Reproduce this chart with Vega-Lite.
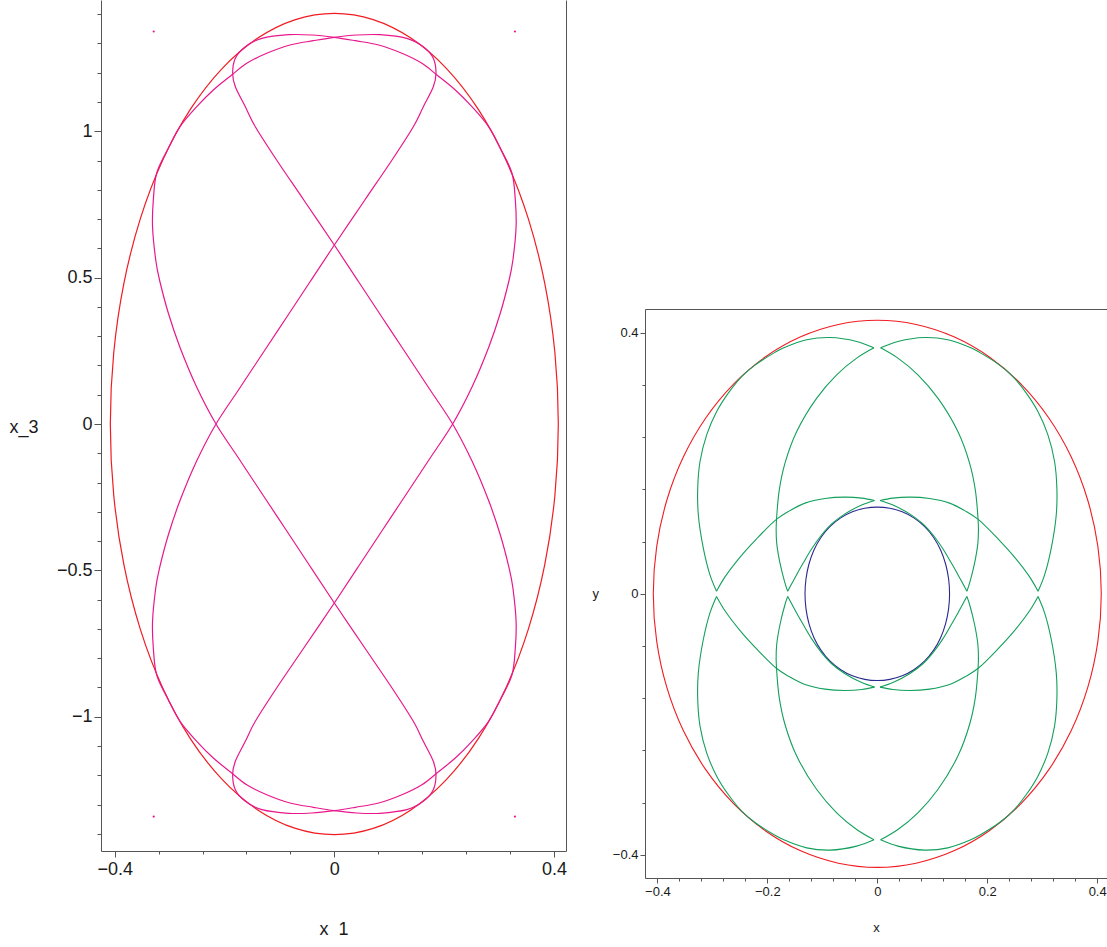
{
"$schema":"https://vega.github.io/schema/vega-lite/v6.json",
"padding":{"left":9,"top":0,"right":0,"bottom":0},
"bounds":"flush",
"spacing":79,
"config":{"view":{"stroke":null},"axis":{"labelFont":"Liberation Sans","titleFont":"Liberation Sans","titleFontWeight":"normal","domainColor":"#555","tickColor":"#555","labelColor":"#1a1a1a","titleColor":"#1a1a1a","grid":false,"domainWidth":1,"tickWidth":1}},
"resolve":{"scale":{"color":"independent"}},
"datasets":{
"L":[
{"s":"r","c":"E","i":0,"x":0.408,"y":0},{"s":"r","c":"E","i":1,"x":0.4018,"y":0.2436},{"s":"r","c":"E","i":2,"x":0.3834,"y":0.4798},{"s":"r","c":"E","i":3,"x":0.3533,"y":0.7015},{"s":"r","c":"E","i":4,"x":0.3125,"y":0.9018},{"s":"r","c":"E","i":5,"x":0.2623,"y":1.0747},{"s":"r","c":"E","i":6,"x":0.204,"y":1.215},{"s":"r","c":"E","i":7,"x":0.1395,"y":1.3184},{"s":"r","c":"E","i":8,"x":0.0708,"y":1.3817},{"s":"r","c":"E","i":9,"x":0,"y":1.403},{"s":"r","c":"E","i":10,"x":-0.0708,"y":1.3817},{"s":"r","c":"E","i":11,"x":-0.1395,"y":1.3184},{"s":"r","c":"E","i":12,"x":-0.204,"y":1.215},{"s":"r","c":"E","i":13,"x":-0.2623,"y":1.0747},{"s":"r","c":"E","i":14,"x":-0.3125,"y":0.9018},{"s":"r","c":"E","i":15,"x":-0.3533,"y":0.7015},{"s":"r","c":"E","i":16,"x":-0.3834,"y":0.4798},{"s":"r","c":"E","i":17,"x":-0.4018,"y":0.2436},{"s":"r","c":"E","i":18,"x":-0.408,"y":0},{"s":"r","c":"E","i":19,"x":-0.4018,"y":-0.2436},{"s":"r","c":"E","i":20,"x":-0.3834,"y":-0.4798},{"s":"r","c":"E","i":21,"x":-0.3533,"y":-0.7015},{"s":"r","c":"E","i":22,"x":-0.3125,"y":-0.9018},{"s":"r","c":"E","i":23,"x":-0.2623,"y":-1.0747},{"s":"r","c":"E","i":24,"x":-0.204,"y":-1.215},{"s":"r","c":"E","i":25,"x":-0.1395,"y":-1.3184},{"s":"r","c":"E","i":26,"x":-0.0708,"y":-1.3817},{"s":"r","c":"E","i":27,"x":0,"y":-1.403},{"s":"r","c":"E","i":28,"x":0.0708,"y":-1.3817},{"s":"r","c":"E","i":29,"x":0.1395,"y":-1.3184},{"s":"r","c":"E","i":30,"x":0.204,"y":-1.215},{"s":"r","c":"E","i":31,"x":0.2623,"y":-1.0747},{"s":"r","c":"E","i":32,"x":0.3125,"y":-0.9018},{"s":"r","c":"E","i":33,"x":0.3533,"y":-0.7015},{"s":"r","c":"E","i":34,"x":0.3834,"y":-0.4798},{"s":"r","c":"E","i":35,"x":0.4018,"y":-0.2436},
{"s":"m","c":"A","i":0,"x":-0.2155,"y":0},{"s":"m","c":"A","i":1,"x":-0.1734,"y":0.1196},{"s":"m","c":"A","i":2,"x":-0.124,"y":0.2597},{"s":"m","c":"A","i":3,"x":-0.0878,"y":0.3621},{"s":"m","c":"A","i":4,"x":-0.0457,"y":0.4817},{"s":"m","c":"A","i":5,"x":0,"y":0.6115},{"s":"m","c":"A","i":6,"x":0.0556,"y":0.7653},{"s":"m","c":"A","i":7,"x":0.1051,"y":0.902},{"s":"m","c":"A","i":8,"x":0.1439,"y":1.0157},{"s":"m","c":"A","i":9,"x":0.1621,"y":1.0841},{"s":"m","c":"A","i":10,"x":0.1803,"y":1.1524},{"s":"m","c":"A","i":11,"x":0.1852,"y":1.1982},{"s":"m","c":"A","i":12,"x":0.1803,"y":1.2494},{"s":"m","c":"A","i":13,"x":0.1621,"y":1.289},{"s":"m","c":"A","i":14,"x":0.1319,"y":1.3177},{"s":"m","c":"A","i":15,"x":0.0832,"y":1.33},{"s":"m","c":"A","i":16,"x":0.0408,"y":1.329},{"s":"m","c":"A","i":17,"x":0,"y":1.3211},{"s":"m","c":"A","i":18,"x":-0.0383,"y":1.3095},{"s":"m","c":"A","i":19,"x":-0.0807,"y":1.2948},{"s":"m","c":"A","i":20,"x":-0.1231,"y":1.2665},{"s":"m","c":"A","i":21,"x":-0.1596,"y":1.2323},{"s":"m","c":"A","i":22,"x":-0.1869,"y":1.1923},{"s":"m","c":"A","i":23,"x":-0.2204,"y":1.1411},{"s":"m","c":"A","i":24,"x":-0.2506,"y":1.0841},{"s":"m","c":"A","i":25,"x":-0.2811,"y":1.0157},{"s":"m","c":"A","i":26,"x":-0.3024,"y":0.9419},{"s":"m","c":"A","i":27,"x":-0.3235,"y":0.8575},{"s":"m","c":"A","i":28,"x":-0.3297,"y":0.7653},{"s":"m","c":"A","i":29,"x":-0.3311,"y":0.6741},{"s":"m","c":"A","i":30,"x":-0.3253,"y":0.5603},{"s":"m","c":"A","i":31,"x":-0.3184,"y":0.492},{"s":"m","c":"A","i":32,"x":-0.3024,"y":0.3792},{"s":"m","c":"A","i":33,"x":-0.2816,"y":0.2641},{"s":"m","c":"A","i":34,"x":-0.251,"y":0.1274},{"s":"m","c":"A","i":35,"x":-0.2155,"y":0},{"s":"m","c":"A","i":36,"x":-0.1734,"y":-0.1196},{"s":"m","c":"A","i":37,"x":-0.124,"y":-0.2597},{"s":"m","c":"A","i":38,"x":-0.0878,"y":-0.3621},{"s":"m","c":"A","i":39,"x":-0.0457,"y":-0.4817},{"s":"m","c":"A","i":40,"x":0,"y":-0.6115},{"s":"m","c":"A","i":41,"x":0.0556,"y":-0.7653},{"s":"m","c":"A","i":42,"x":0.1051,"y":-0.902},{"s":"m","c":"A","i":43,"x":0.1439,"y":-1.0157},{"s":"m","c":"A","i":44,"x":0.1621,"y":-1.0841},{"s":"m","c":"A","i":45,"x":0.1803,"y":-1.1524},{"s":"m","c":"A","i":46,"x":0.1852,"y":-1.1982},{"s":"m","c":"A","i":47,"x":0.1803,"y":-1.2494},{"s":"m","c":"A","i":48,"x":0.1621,"y":-1.289},{"s":"m","c":"A","i":49,"x":0.1319,"y":-1.3177},{"s":"m","c":"A","i":50,"x":0.0832,"y":-1.33},{"s":"m","c":"A","i":51,"x":0.0408,"y":-1.329},{"s":"m","c":"A","i":52,"x":0,"y":-1.3211},{"s":"m","c":"A","i":53,"x":-0.0383,"y":-1.3095},{"s":"m","c":"A","i":54,"x":-0.0807,"y":-1.2948},{"s":"m","c":"A","i":55,"x":-0.1231,"y":-1.2665},{"s":"m","c":"A","i":56,"x":-0.1596,"y":-1.2323},{"s":"m","c":"A","i":57,"x":-0.1869,"y":-1.1923},{"s":"m","c":"A","i":58,"x":-0.2204,"y":-1.1411},{"s":"m","c":"A","i":59,"x":-0.2506,"y":-1.0841},{"s":"m","c":"A","i":60,"x":-0.2811,"y":-1.0157},{"s":"m","c":"A","i":61,"x":-0.3024,"y":-0.9419},{"s":"m","c":"A","i":62,"x":-0.3235,"y":-0.8575},{"s":"m","c":"A","i":63,"x":-0.3297,"y":-0.7653},{"s":"m","c":"A","i":64,"x":-0.3311,"y":-0.6741},{"s":"m","c":"A","i":65,"x":-0.3253,"y":-0.5603},{"s":"m","c":"A","i":66,"x":-0.3184,"y":-0.492},{"s":"m","c":"A","i":67,"x":-0.3024,"y":-0.3792},{"s":"m","c":"A","i":68,"x":-0.2816,"y":-0.2641},{"s":"m","c":"A","i":69,"x":-0.251,"y":-0.1274},
{"s":"m","c":"B","i":0,"x":0.2155,"y":0},{"s":"m","c":"B","i":1,"x":0.1734,"y":0.1196},{"s":"m","c":"B","i":2,"x":0.124,"y":0.2597},{"s":"m","c":"B","i":3,"x":0.0878,"y":0.3621},{"s":"m","c":"B","i":4,"x":0.0457,"y":0.4817},{"s":"m","c":"B","i":5,"x":0,"y":0.6115},{"s":"m","c":"B","i":6,"x":-0.0556,"y":0.7653},{"s":"m","c":"B","i":7,"x":-0.1051,"y":0.902},{"s":"m","c":"B","i":8,"x":-0.1439,"y":1.0157},{"s":"m","c":"B","i":9,"x":-0.1621,"y":1.0841},{"s":"m","c":"B","i":10,"x":-0.1803,"y":1.1524},{"s":"m","c":"B","i":11,"x":-0.1852,"y":1.1982},{"s":"m","c":"B","i":12,"x":-0.1803,"y":1.2494},{"s":"m","c":"B","i":13,"x":-0.1621,"y":1.289},{"s":"m","c":"B","i":14,"x":-0.1319,"y":1.3177},{"s":"m","c":"B","i":15,"x":-0.0832,"y":1.33},{"s":"m","c":"B","i":16,"x":-0.0408,"y":1.329},{"s":"m","c":"B","i":17,"x":0,"y":1.3211},{"s":"m","c":"B","i":18,"x":0.0383,"y":1.3095},{"s":"m","c":"B","i":19,"x":0.0807,"y":1.2948},{"s":"m","c":"B","i":20,"x":0.1231,"y":1.2665},{"s":"m","c":"B","i":21,"x":0.1596,"y":1.2323},{"s":"m","c":"B","i":22,"x":0.1869,"y":1.1923},{"s":"m","c":"B","i":23,"x":0.2204,"y":1.1411},{"s":"m","c":"B","i":24,"x":0.2506,"y":1.0841},{"s":"m","c":"B","i":25,"x":0.2811,"y":1.0157},{"s":"m","c":"B","i":26,"x":0.3024,"y":0.9419},{"s":"m","c":"B","i":27,"x":0.3235,"y":0.8575},{"s":"m","c":"B","i":28,"x":0.3297,"y":0.7653},{"s":"m","c":"B","i":29,"x":0.3311,"y":0.6741},{"s":"m","c":"B","i":30,"x":0.3253,"y":0.5603},{"s":"m","c":"B","i":31,"x":0.3184,"y":0.492},{"s":"m","c":"B","i":32,"x":0.3024,"y":0.3792},{"s":"m","c":"B","i":33,"x":0.2816,"y":0.2641},{"s":"m","c":"B","i":34,"x":0.251,"y":0.1274},{"s":"m","c":"B","i":35,"x":0.2155,"y":0},{"s":"m","c":"B","i":36,"x":0.1734,"y":-0.1196},{"s":"m","c":"B","i":37,"x":0.124,"y":-0.2597},{"s":"m","c":"B","i":38,"x":0.0878,"y":-0.3621},{"s":"m","c":"B","i":39,"x":0.0457,"y":-0.4817},{"s":"m","c":"B","i":40,"x":0,"y":-0.6115},{"s":"m","c":"B","i":41,"x":-0.0556,"y":-0.7653},{"s":"m","c":"B","i":42,"x":-0.1051,"y":-0.902},{"s":"m","c":"B","i":43,"x":-0.1439,"y":-1.0157},{"s":"m","c":"B","i":44,"x":-0.1621,"y":-1.0841},{"s":"m","c":"B","i":45,"x":-0.1803,"y":-1.1524},{"s":"m","c":"B","i":46,"x":-0.1852,"y":-1.1982},{"s":"m","c":"B","i":47,"x":-0.1803,"y":-1.2494},{"s":"m","c":"B","i":48,"x":-0.1621,"y":-1.289},{"s":"m","c":"B","i":49,"x":-0.1319,"y":-1.3177},{"s":"m","c":"B","i":50,"x":-0.0832,"y":-1.33},{"s":"m","c":"B","i":51,"x":-0.0408,"y":-1.329},{"s":"m","c":"B","i":52,"x":0,"y":-1.3211},{"s":"m","c":"B","i":53,"x":0.0383,"y":-1.3095},{"s":"m","c":"B","i":54,"x":0.0807,"y":-1.2948},{"s":"m","c":"B","i":55,"x":0.1231,"y":-1.2665},{"s":"m","c":"B","i":56,"x":0.1596,"y":-1.2323},{"s":"m","c":"B","i":57,"x":0.1869,"y":-1.1923},{"s":"m","c":"B","i":58,"x":0.2204,"y":-1.1411},{"s":"m","c":"B","i":59,"x":0.2506,"y":-1.0841},{"s":"m","c":"B","i":60,"x":0.2811,"y":-1.0157},{"s":"m","c":"B","i":61,"x":0.3024,"y":-0.9419},{"s":"m","c":"B","i":62,"x":0.3235,"y":-0.8575},{"s":"m","c":"B","i":63,"x":0.3297,"y":-0.7653},{"s":"m","c":"B","i":64,"x":0.3311,"y":-0.6741},{"s":"m","c":"B","i":65,"x":0.3253,"y":-0.5603},{"s":"m","c":"B","i":66,"x":0.3184,"y":-0.492},{"s":"m","c":"B","i":67,"x":0.3024,"y":-0.3792},{"s":"m","c":"B","i":68,"x":0.2816,"y":-0.2641},{"s":"m","c":"B","i":69,"x":0.251,"y":-0.1274}
],
"D":[{"x":-0.329,"y":1.341},{"x":0.329,"y":1.341},{"x":-0.329,"y":-1.341},{"x":0.329,"y":-1.341}],
"E":[
{"s":"r","c":"R","i":0,"x":0.4075,"y":0},{"s":"r","c":"R","i":1,"x":0.4013,"y":0.0728},{"s":"r","c":"R","i":2,"x":0.3829,"y":0.1434},{"s":"r","c":"R","i":3,"x":0.3529,"y":0.2096},{"s":"r","c":"R","i":4,"x":0.3121,"y":0.2695},{"s":"r","c":"R","i":5,"x":0.2619,"y":0.3211},{"s":"r","c":"R","i":6,"x":0.2038,"y":0.363},{"s":"r","c":"R","i":7,"x":0.1394,"y":0.3939},{"s":"r","c":"R","i":8,"x":0.0707,"y":0.4128},{"s":"r","c":"R","i":9,"x":0,"y":0.4192},{"s":"r","c":"R","i":10,"x":-0.0707,"y":0.4128},{"s":"r","c":"R","i":11,"x":-0.1394,"y":0.3939},{"s":"r","c":"R","i":12,"x":-0.2038,"y":0.363},{"s":"r","c":"R","i":13,"x":-0.2619,"y":0.3211},{"s":"r","c":"R","i":14,"x":-0.3121,"y":0.2695},{"s":"r","c":"R","i":15,"x":-0.3529,"y":0.2096},{"s":"r","c":"R","i":16,"x":-0.3829,"y":0.1434},{"s":"r","c":"R","i":17,"x":-0.4013,"y":0.0728},{"s":"r","c":"R","i":18,"x":-0.4075,"y":0},{"s":"r","c":"R","i":19,"x":-0.4013,"y":-0.0728},{"s":"r","c":"R","i":20,"x":-0.3829,"y":-0.1434},{"s":"r","c":"R","i":21,"x":-0.3529,"y":-0.2096},{"s":"r","c":"R","i":22,"x":-0.3121,"y":-0.2695},{"s":"r","c":"R","i":23,"x":-0.2619,"y":-0.3211},{"s":"r","c":"R","i":24,"x":-0.2038,"y":-0.363},{"s":"r","c":"R","i":25,"x":-0.1394,"y":-0.3939},{"s":"r","c":"R","i":26,"x":-0.0707,"y":-0.4128},{"s":"r","c":"R","i":27,"x":0,"y":-0.4192},{"s":"r","c":"R","i":28,"x":0.0707,"y":-0.4128},{"s":"r","c":"R","i":29,"x":0.1394,"y":-0.3939},{"s":"r","c":"R","i":30,"x":0.2038,"y":-0.363},{"s":"r","c":"R","i":31,"x":0.2619,"y":-0.3211},{"s":"r","c":"R","i":32,"x":0.3121,"y":-0.2695},{"s":"r","c":"R","i":33,"x":0.3529,"y":-0.2096},{"s":"r","c":"R","i":34,"x":0.3829,"y":-0.1434},{"s":"r","c":"R","i":35,"x":0.4013,"y":-0.0728},
{"s":"b","c":"C","i":0,"x":0.1315,"y":0},{"s":"b","c":"C","i":1,"x":0.1297,"y":0.0231},{"s":"b","c":"C","i":2,"x":0.1243,"y":0.0457},{"s":"b","c":"C","i":3,"x":0.1152,"y":0.0672},{"s":"b","c":"C","i":4,"x":0.1022,"y":0.0867},{"s":"b","c":"C","i":5,"x":0.0858,"y":0.1033},{"s":"b","c":"C","i":6,"x":0.0665,"y":0.1164},{"s":"b","c":"C","i":7,"x":0.0453,"y":0.1257},{"s":"b","c":"C","i":8,"x":0.0229,"y":0.1311},{"s":"b","c":"C","i":9,"x":0,"y":0.1329},{"s":"b","c":"C","i":10,"x":-0.0229,"y":0.1311},{"s":"b","c":"C","i":11,"x":-0.0453,"y":0.1257},{"s":"b","c":"C","i":12,"x":-0.0665,"y":0.1164},{"s":"b","c":"C","i":13,"x":-0.0858,"y":0.1033},{"s":"b","c":"C","i":14,"x":-0.1022,"y":0.0867},{"s":"b","c":"C","i":15,"x":-0.1152,"y":0.0672},{"s":"b","c":"C","i":16,"x":-0.1243,"y":0.0457},{"s":"b","c":"C","i":17,"x":-0.1297,"y":0.0231},{"s":"b","c":"C","i":18,"x":-0.1315,"y":0},{"s":"b","c":"C","i":19,"x":-0.1297,"y":-0.0231},{"s":"b","c":"C","i":20,"x":-0.1243,"y":-0.0457},{"s":"b","c":"C","i":21,"x":-0.1152,"y":-0.0672},{"s":"b","c":"C","i":22,"x":-0.1022,"y":-0.0867},{"s":"b","c":"C","i":23,"x":-0.0858,"y":-0.1033},{"s":"b","c":"C","i":24,"x":-0.0665,"y":-0.1164},{"s":"b","c":"C","i":25,"x":-0.0453,"y":-0.1257},{"s":"b","c":"C","i":26,"x":-0.0229,"y":-0.1311},{"s":"b","c":"C","i":27,"x":0,"y":-0.1329},{"s":"b","c":"C","i":28,"x":0.0229,"y":-0.1311},{"s":"b","c":"C","i":29,"x":0.0453,"y":-0.1257},{"s":"b","c":"C","i":30,"x":0.0665,"y":-0.1164},{"s":"b","c":"C","i":31,"x":0.0858,"y":-0.1033},{"s":"b","c":"C","i":32,"x":0.1022,"y":-0.0867},{"s":"b","c":"C","i":33,"x":0.1152,"y":-0.0672},{"s":"b","c":"C","i":34,"x":0.1243,"y":-0.0457},{"s":"b","c":"C","i":35,"x":0.1297,"y":-0.0231}
],
"G":[
{"c":"A1","i":0,"x":-0.006,"y":0.377},{"c":"A1","i":1,"x":-0.0375,"y":0.3867},{"c":"A1","i":2,"x":-0.086,"y":0.3928},{"c":"A1","i":3,"x":-0.1284,"y":0.3893},{"c":"A1","i":4,"x":-0.171,"y":0.3766},{"c":"A1","i":5,"x":-0.1861,"y":0.37},{"c":"A1","i":6,"x":-0.2225,"y":0.3505},{"c":"A1","i":7,"x":-0.2467,"y":0.333},{"c":"A1","i":8,"x":-0.2711,"y":0.3076},{"c":"A1","i":9,"x":-0.2922,"y":0.2794},{"c":"A1","i":10,"x":-0.3104,"y":0.2437},{"c":"A1","i":11,"x":-0.3225,"y":0.2028},{"c":"A1","i":12,"x":-0.3267,"y":0.162},{"c":"A1","i":13,"x":-0.3256,"y":0.1211},{"c":"A1","i":14,"x":-0.3165,"y":0.07},{"c":"A1","i":15,"x":-0.3044,"y":0.0291},{"c":"A1","i":16,"x":-0.2925,"y":0.004},
{"c":"B1","i":0,"x":-0.006,"y":0.377},{"c":"B1","i":1,"x":-0.0375,"y":0.3612},{"c":"B1","i":2,"x":-0.0739,"y":0.3356},{"c":"B1","i":3,"x":-0.1102,"y":0.2999},{"c":"B1","i":4,"x":-0.1466,"y":0.2487},{"c":"B1","i":5,"x":-0.1679,"y":0.2003},{"c":"B1","i":6,"x":-0.1783,"y":0.1594},{"c":"B1","i":7,"x":-0.183,"y":0.1185},{"c":"B1","i":8,"x":-0.184,"y":0.1},{"c":"B1","i":9,"x":-0.183,"y":0.0777},{"c":"B1","i":10,"x":-0.177,"y":0.047},{"c":"B1","i":11,"x":-0.1679,"y":0.0164},{"c":"B1","i":12,"x":-0.163,"y":0.004},
{"c":"C1","i":0,"x":-0.005,"y":0.143},{"c":"C1","i":1,"x":-0.0284,"y":0.1467},{"c":"C1","i":2,"x":-0.0588,"y":0.1482},{"c":"C1","i":3,"x":-0.0951,"y":0.1461},{"c":"C1","i":4,"x":-0.1315,"y":0.139},{"c":"C1","i":5,"x":-0.1619,"y":0.1261},{"c":"C1","i":6,"x":-0.183,"y":0.1145},{"c":"C1","i":7,"x":-0.22,"y":0.084},{"c":"C1","i":8,"x":-0.25,"y":0.056},{"c":"C1","i":9,"x":-0.2771,"y":0.026},{"c":"C1","i":10,"x":-0.2925,"y":0.004},
{"c":"D1","i":0,"x":-0.005,"y":0.143},{"c":"D1","i":1,"x":-0.0284,"y":0.136},{"c":"D1","i":2,"x":-0.0588,"y":0.1225},{"c":"D1","i":3,"x":-0.083,"y":0.1072},{"c":"D1","i":4,"x":-0.1011,"y":0.0905},{"c":"D1","i":5,"x":-0.1193,"y":0.069},{"c":"D1","i":6,"x":-0.1345,"y":0.0475},{"c":"D1","i":7,"x":-0.147,"y":0.029},{"c":"D1","i":8,"x":-0.156,"y":0.015},{"c":"D1","i":9,"x":-0.163,"y":0.004},
{"c":"A2","i":0,"x":0.006,"y":0.377},{"c":"A2","i":1,"x":0.0375,"y":0.3867},{"c":"A2","i":2,"x":0.086,"y":0.3928},{"c":"A2","i":3,"x":0.1284,"y":0.3893},{"c":"A2","i":4,"x":0.171,"y":0.3766},{"c":"A2","i":5,"x":0.1861,"y":0.37},{"c":"A2","i":6,"x":0.2225,"y":0.3505},{"c":"A2","i":7,"x":0.2467,"y":0.333},{"c":"A2","i":8,"x":0.2711,"y":0.3076},{"c":"A2","i":9,"x":0.2922,"y":0.2794},{"c":"A2","i":10,"x":0.3104,"y":0.2437},{"c":"A2","i":11,"x":0.3225,"y":0.2028},{"c":"A2","i":12,"x":0.3267,"y":0.162},{"c":"A2","i":13,"x":0.3256,"y":0.1211},{"c":"A2","i":14,"x":0.3165,"y":0.07},{"c":"A2","i":15,"x":0.3044,"y":0.0291},{"c":"A2","i":16,"x":0.2925,"y":0.004},
{"c":"B2","i":0,"x":0.006,"y":0.377},{"c":"B2","i":1,"x":0.0375,"y":0.3612},{"c":"B2","i":2,"x":0.0739,"y":0.3356},{"c":"B2","i":3,"x":0.1102,"y":0.2999},{"c":"B2","i":4,"x":0.1466,"y":0.2487},{"c":"B2","i":5,"x":0.1679,"y":0.2003},{"c":"B2","i":6,"x":0.1783,"y":0.1594},{"c":"B2","i":7,"x":0.183,"y":0.1185},{"c":"B2","i":8,"x":0.184,"y":0.1},{"c":"B2","i":9,"x":0.183,"y":0.0777},{"c":"B2","i":10,"x":0.177,"y":0.047},{"c":"B2","i":11,"x":0.1679,"y":0.0164},{"c":"B2","i":12,"x":0.163,"y":0.004},
{"c":"C2","i":0,"x":0.005,"y":0.143},{"c":"C2","i":1,"x":0.0284,"y":0.1467},{"c":"C2","i":2,"x":0.0588,"y":0.1482},{"c":"C2","i":3,"x":0.0951,"y":0.1461},{"c":"C2","i":4,"x":0.1315,"y":0.139},{"c":"C2","i":5,"x":0.1619,"y":0.1261},{"c":"C2","i":6,"x":0.183,"y":0.1145},{"c":"C2","i":7,"x":0.22,"y":0.084},{"c":"C2","i":8,"x":0.25,"y":0.056},{"c":"C2","i":9,"x":0.2771,"y":0.026},{"c":"C2","i":10,"x":0.2925,"y":0.004},
{"c":"D2","i":0,"x":0.005,"y":0.143},{"c":"D2","i":1,"x":0.0284,"y":0.136},{"c":"D2","i":2,"x":0.0588,"y":0.1225},{"c":"D2","i":3,"x":0.083,"y":0.1072},{"c":"D2","i":4,"x":0.1011,"y":0.0905},{"c":"D2","i":5,"x":0.1193,"y":0.069},{"c":"D2","i":6,"x":0.1345,"y":0.0475},{"c":"D2","i":7,"x":0.147,"y":0.029},{"c":"D2","i":8,"x":0.156,"y":0.015},{"c":"D2","i":9,"x":0.163,"y":0.004},
{"c":"A3","i":0,"x":-0.006,"y":-0.377},{"c":"A3","i":1,"x":-0.0375,"y":-0.3867},{"c":"A3","i":2,"x":-0.086,"y":-0.3928},{"c":"A3","i":3,"x":-0.1284,"y":-0.3893},{"c":"A3","i":4,"x":-0.171,"y":-0.3766},{"c":"A3","i":5,"x":-0.1861,"y":-0.37},{"c":"A3","i":6,"x":-0.2225,"y":-0.3505},{"c":"A3","i":7,"x":-0.2467,"y":-0.333},{"c":"A3","i":8,"x":-0.2711,"y":-0.3076},{"c":"A3","i":9,"x":-0.2922,"y":-0.2794},{"c":"A3","i":10,"x":-0.3104,"y":-0.2437},{"c":"A3","i":11,"x":-0.3225,"y":-0.2028},{"c":"A3","i":12,"x":-0.3267,"y":-0.162},{"c":"A3","i":13,"x":-0.3256,"y":-0.1211},{"c":"A3","i":14,"x":-0.3165,"y":-0.07},{"c":"A3","i":15,"x":-0.3044,"y":-0.0291},{"c":"A3","i":16,"x":-0.2925,"y":-0.004},
{"c":"B3","i":0,"x":-0.006,"y":-0.377},{"c":"B3","i":1,"x":-0.0375,"y":-0.3612},{"c":"B3","i":2,"x":-0.0739,"y":-0.3356},{"c":"B3","i":3,"x":-0.1102,"y":-0.2999},{"c":"B3","i":4,"x":-0.1466,"y":-0.2487},{"c":"B3","i":5,"x":-0.1679,"y":-0.2003},{"c":"B3","i":6,"x":-0.1783,"y":-0.1594},{"c":"B3","i":7,"x":-0.183,"y":-0.1185},{"c":"B3","i":8,"x":-0.184,"y":-0.1},{"c":"B3","i":9,"x":-0.183,"y":-0.0777},{"c":"B3","i":10,"x":-0.177,"y":-0.047},{"c":"B3","i":11,"x":-0.1679,"y":-0.0164},{"c":"B3","i":12,"x":-0.163,"y":-0.004},
{"c":"C3","i":0,"x":-0.005,"y":-0.143},{"c":"C3","i":1,"x":-0.0284,"y":-0.1467},{"c":"C3","i":2,"x":-0.0588,"y":-0.1482},{"c":"C3","i":3,"x":-0.0951,"y":-0.1461},{"c":"C3","i":4,"x":-0.1315,"y":-0.139},{"c":"C3","i":5,"x":-0.1619,"y":-0.1261},{"c":"C3","i":6,"x":-0.183,"y":-0.1145},{"c":"C3","i":7,"x":-0.22,"y":-0.084},{"c":"C3","i":8,"x":-0.25,"y":-0.056},{"c":"C3","i":9,"x":-0.2771,"y":-0.026},{"c":"C3","i":10,"x":-0.2925,"y":-0.004},
{"c":"D3","i":0,"x":-0.005,"y":-0.143},{"c":"D3","i":1,"x":-0.0284,"y":-0.136},{"c":"D3","i":2,"x":-0.0588,"y":-0.1225},{"c":"D3","i":3,"x":-0.083,"y":-0.1072},{"c":"D3","i":4,"x":-0.1011,"y":-0.0905},{"c":"D3","i":5,"x":-0.1193,"y":-0.069},{"c":"D3","i":6,"x":-0.1345,"y":-0.0475},{"c":"D3","i":7,"x":-0.147,"y":-0.029},{"c":"D3","i":8,"x":-0.156,"y":-0.015},{"c":"D3","i":9,"x":-0.163,"y":-0.004},
{"c":"A4","i":0,"x":0.006,"y":-0.377},{"c":"A4","i":1,"x":0.0375,"y":-0.3867},{"c":"A4","i":2,"x":0.086,"y":-0.3928},{"c":"A4","i":3,"x":0.1284,"y":-0.3893},{"c":"A4","i":4,"x":0.171,"y":-0.3766},{"c":"A4","i":5,"x":0.1861,"y":-0.37},{"c":"A4","i":6,"x":0.2225,"y":-0.3505},{"c":"A4","i":7,"x":0.2467,"y":-0.333},{"c":"A4","i":8,"x":0.2711,"y":-0.3076},{"c":"A4","i":9,"x":0.2922,"y":-0.2794},{"c":"A4","i":10,"x":0.3104,"y":-0.2437},{"c":"A4","i":11,"x":0.3225,"y":-0.2028},{"c":"A4","i":12,"x":0.3267,"y":-0.162},{"c":"A4","i":13,"x":0.3256,"y":-0.1211},{"c":"A4","i":14,"x":0.3165,"y":-0.07},{"c":"A4","i":15,"x":0.3044,"y":-0.0291},{"c":"A4","i":16,"x":0.2925,"y":-0.004},
{"c":"B4","i":0,"x":0.006,"y":-0.377},{"c":"B4","i":1,"x":0.0375,"y":-0.3612},{"c":"B4","i":2,"x":0.0739,"y":-0.3356},{"c":"B4","i":3,"x":0.1102,"y":-0.2999},{"c":"B4","i":4,"x":0.1466,"y":-0.2487},{"c":"B4","i":5,"x":0.1679,"y":-0.2003},{"c":"B4","i":6,"x":0.1783,"y":-0.1594},{"c":"B4","i":7,"x":0.183,"y":-0.1185},{"c":"B4","i":8,"x":0.184,"y":-0.1},{"c":"B4","i":9,"x":0.183,"y":-0.0777},{"c":"B4","i":10,"x":0.177,"y":-0.047},{"c":"B4","i":11,"x":0.1679,"y":-0.0164},{"c":"B4","i":12,"x":0.163,"y":-0.004},
{"c":"C4","i":0,"x":0.005,"y":-0.143},{"c":"C4","i":1,"x":0.0284,"y":-0.1467},{"c":"C4","i":2,"x":0.0588,"y":-0.1482},{"c":"C4","i":3,"x":0.0951,"y":-0.1461},{"c":"C4","i":4,"x":0.1315,"y":-0.139},{"c":"C4","i":5,"x":0.1619,"y":-0.1261},{"c":"C4","i":6,"x":0.183,"y":-0.1145},{"c":"C4","i":7,"x":0.22,"y":-0.084},{"c":"C4","i":8,"x":0.25,"y":-0.056},{"c":"C4","i":9,"x":0.2771,"y":-0.026},{"c":"C4","i":10,"x":0.2925,"y":-0.004},
{"c":"D4","i":0,"x":0.005,"y":-0.143},{"c":"D4","i":1,"x":0.0284,"y":-0.136},{"c":"D4","i":2,"x":0.0588,"y":-0.1225},{"c":"D4","i":3,"x":0.083,"y":-0.1072},{"c":"D4","i":4,"x":0.1011,"y":-0.0905},{"c":"D4","i":5,"x":0.1193,"y":-0.069},{"c":"D4","i":6,"x":0.1345,"y":-0.0475},{"c":"D4","i":7,"x":0.147,"y":-0.029},{"c":"D4","i":8,"x":0.156,"y":-0.015},{"c":"D4","i":9,"x":0.163,"y":-0.004}
]
},
"hconcat":[
{
"width":465,"height":851,
"layer":[
{"data":{"name":"L"},
 "mark":{"type":"line","interpolate":"cardinal-closed","strokeWidth":1.2},
 "encoding":{
  "x":{"field":"x","type":"quantitative","scale":{"domain":[-0.425,0.422],"nice":false,"zero":false},
   "axis":{"title":"x_1","values":[-0.4,-0.36,-0.32,-0.28,-0.24,-0.2,-0.16,-0.12,-0.08,-0.04,0,0.04,0.08,0.12,0.16,0.2,0.24,0.28,0.32,0.36,0.4],"format":"~g",
    "labelExpr":"abs(datum.value*5-round(datum.value*5))<0.001 ? datum.label : ''",
    "tickSize":{"condition":{"test":"abs(datum.value*5-round(datum.value*5))<0.001","value":6},"value":3},
    "labelFontSize":18,"labelPadding":3,"labelFlush":false,"labelOverlap":false,"labelBound":false,
    "titleFontSize":18,"titleY":83,"titleBaseline":"alphabetic"}},
  "y":{"field":"y","type":"quantitative","scale":{"domain":[-1.4588,1.4486],"nice":false,"zero":false},
   "axis":{"title":"x_3","values":[-1.4,-1.3,-1.2,-1.1,-1,-0.9,-0.8,-0.7,-0.6,-0.5,-0.4,-0.3,-0.2,-0.1,0,0.1,0.2,0.3,0.4,0.5,0.6,0.7,0.8,0.9,1,1.1,1.2,1.3,1.4],"format":"~g",
    "labelExpr":"abs(datum.value*2-round(datum.value*2))<0.001 ? datum.label : ''",
    "tickSize":{"condition":{"test":"abs(datum.value*2-round(datum.value*2))<0.001","value":7},"value":4},
    "labelFontSize":18,"labelPadding":2,"labelOverlap":false,"labelFlush":false,"labelBound":false,
    "titleFontSize":18,"titleAngle":0,"titleAlign":"left","titleBaseline":"alphabetic","titleX":-92,"titleY":432}},
  "color":{"field":"s","type":"nominal","scale":{"domain":["r","m","b"],"range":["#f01c22","#e8188c","#2a2a8e"]},"legend":null},
  "detail":{"field":"c"},
  "order":{"field":"i","type":"quantitative"}
 }},
{"data":{"name":"D"},
 "mark":{"type":"point","filled":true,"size":5,"color":"#e8188c","opacity":1},
 "encoding":{
  "x":{"field":"x","type":"quantitative","scale":{"domain":[-0.425,0.422],"nice":false,"zero":false}},
  "y":{"field":"y","type":"quantitative","scale":{"domain":[-1.4588,1.4486],"nice":false,"zero":false},
   "axis":{"orient":"right","labels":false,"ticks":false,"title":null,"domain":true}}
 }}
],
"resolve":{"axis":{"y":"independent"}}
},
{
"bounds":"flush",
"spacing":9,
"vconcat":[
{"width":462,"height":300,"data":{"values":[{"a":1}]},"mark":{"type":"point","opacity":0}},
{
"width":462,"height":569,
"layer":[
{"data":{"name":"E"},
 "mark":{"type":"line","interpolate":"cardinal-closed","strokeWidth":1.1},
 "encoding":{
  "x":{"field":"x","type":"quantitative","scale":{"domain":[-0.4226,0.4179],"nice":false,"zero":false},
   "axis":{"title":"x","values":[-0.4,-0.36,-0.32,-0.28,-0.24,-0.2,-0.16,-0.12,-0.08,-0.04,0,0.04,0.08,0.12,0.16,0.2,0.24,0.28,0.32,0.36,0.4],"format":"~g",
    "labelExpr":"abs(datum.value*5-round(datum.value*5))<0.001 ? datum.label : ''",
    "tickSize":{"condition":{"test":"abs(datum.value*5-round(datum.value*5))<0.001","value":5},"value":3},
    "labelFontSize":13,"labelPadding":2,"labelFlush":false,"labelOverlap":false,"labelBound":false,
    "titleFontSize":13,"titleY":53,"titleBaseline":"alphabetic"}},
  "y":{"field":"y","type":"quantitative","scale":{"domain":[-0.4355,0.4365],"nice":false,"zero":false},
   "axis":{"title":"y","values":[-0.4,-0.36,-0.32,-0.28,-0.24,-0.2,-0.16,-0.12,-0.08,-0.04,0,0.04,0.08,0.12,0.16,0.2,0.24,0.28,0.32,0.36,0.4],"format":"~g",
    "labelExpr":"abs(datum.value*5-round(datum.value*5))<0.001 ? datum.label : ''",
    "tickSize":{"condition":{"test":"abs(datum.value*5-round(datum.value*5))<0.001","value":5},"value":3},
    "labelFontSize":13,"labelPadding":2,"labelOverlap":false,"labelFlush":false,"labelBound":false,
    "titleFontSize":13,"titleAngle":0,"titleAlign":"left","titleBaseline":"alphabetic","titleX":-53,"titleY":288}},
  "color":{"field":"s","type":"nominal","scale":{"domain":["r","m","b"],"range":["#f01c22","#e8188c","#2a2a8e"]},"legend":null},
  "detail":{"field":"c"},
  "order":{"field":"i","type":"quantitative"}
 }},
{"data":{"name":"G"},
 "mark":{"type":"line","interpolate":"catmull-rom","strokeWidth":1.1,"color":"#13a05c"},
 "encoding":{
  "x":{"field":"x","type":"quantitative","scale":{"domain":[-0.4226,0.4179],"nice":false,"zero":false},
   "axis":{"orient":"top","labels":false,"ticks":false,"title":null,"domain":true}},
  "y":{"field":"y","type":"quantitative","scale":{"domain":[-0.4355,0.4365],"nice":false,"zero":false}},
  "detail":{"field":"c"},
  "order":{"field":"i","type":"quantitative"}
 }}
],
"resolve":{"axis":{"x":"independent"}}
}
]
}
]
}
